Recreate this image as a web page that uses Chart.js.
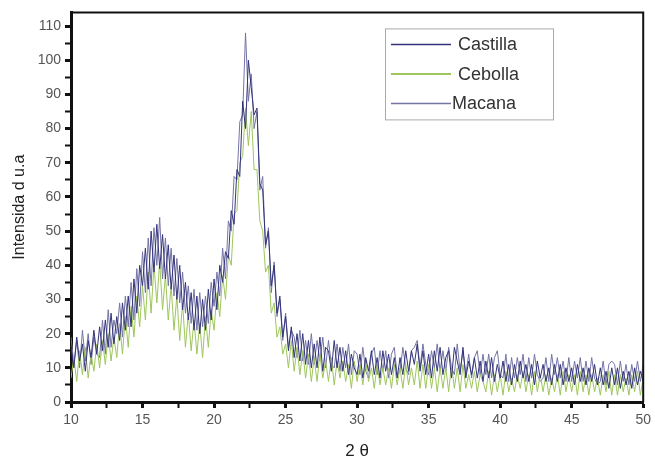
<!DOCTYPE html>
<html lang="es">
<head>
    <meta charset="UTF-8">
    <title>DRX</title>
    <script src="https://cdn.jsdelivr.net/npm/chart.js"></script>
    <style>
        html, body { margin: 0; padding: 0; background: #fff; }
        #wrap { width: 655px; height: 462px; position: relative; }
    </style>
</head>
<body>
    <div id="wrap"><canvas id="xrd"></canvas></div>

    <script>
        // scan 10..50 deg, step 0.2
        const startAngle = 10;
        const stepAngle = 0.2;
        const seriesNames = ["Castilla", "Cebolla", "Macana"];
        const seriesColors = ["#34347a", "#9ec65c", "#7474a6"];

        const castilla = [
            16,10,19,12,17,9,18,13,21,14,
            22,15,24,16,26,17,25,18,29,21,
            31,22,36,26,40, 34,45,33,50,38, 52,39,49,36,46, 33,43,30,40,27,
            35,24,32,21,31, 20,30,21,33,24, 36,27,40,35,44, 42,56,52,68,66,
            88,80,100,92,84, 86,64,62,46,50, 34,40,26,31,19, 25,15,22,13,20,
            12,20,11,18,10, 17,10,19,9,16, 15,9,18,10,16, 9,15,8,14,10,
            8,14,7,13,9, 15,8,13,7,15, 9,14,8,13,7, 13,8,15,9,15,
            11,17,9,15,8, 14,7,15,9,16, 8,13,15,7,16, 12,8,16,7,12,
            8,13,7,12,6, 12,7,13,6,11, 7,12,6,11,5, 11,6,12,7,11,
            6,11,5,12,7, 11,6,10,5,11, 6,11,5,10,6, 10,5,11,6,10,
            5,10,6,11,5, 10,5,9,4,10, 5,10,4,9,5, 9,4,10,5,9,
            6
        ];
        const cebolla = [
            7,13,6,15,8,16,7,14,9,17,
            10,18,11,20,12,19,13,23,14,25,
            16,28,19,31,22, 34,24,38,26,40, 29,41,27,37,24, 34,21,31,18,29,
            16,26,15,24,14, 23,13,25,16,27, 21,32,25,37,30, 43,40,55,56,70,
            72,86,75,85,68, 68,53,50,38,40, 26,29,19,22,14, 17,10,18,9,16,
            8,15,7,14,6, 13,6,14,7,12, 6,13,5,12,7, 12,6,11,4,12,
            6,11,5,12,6, 10,4,11,5,10, 5,10,4,11,5, 10,4,11,5,10,
            5,12,4,11,4, 11,4,10,3,10, 4,10,3,11,4, 10,3,11,4,8,
            4,9,3,8,6, 3,9,2,8,3, 8,2,9,3,7, 3,8,4,9,3,
            8,2,9,3,8, 3,8,2,7,3, 8,2,9,3,8, 3,8,2,9,3,
            8,2,8,3,7, 2,8,3,9,2, 8,2,8,3,7, 2,8,3,9,2,
            7
        ];
        const macana = [
            19,11,18,10,21,12,20,11,19,14,
            13,24,14,27,16,24,20,29,19,31,
            22,35,24,39,28, 44,32,48,34,51, 40,54,36,48,34, 45,31,42,29,38,
            26,34,23,33,21, 32,22,31,23,35, 28,38,31,45,36, 53,50,66,65,82,
            84,108,88,96,80, 85,62,66,45,51, 32,41,25,30,18, 26,16,21,19,13,
            21,12,18,11,20, 11,18,12,19,10, 18,11,10,17,9, 16,10,17,8,15,
            14,8,16,9,7, 14,16,8,15,9, 15,7,14,16,8, 9,16,10,8,15,
            16,18,10,17,11, 8,15,10,17,9, 15,9,16,10,8, 17,9,15,8,14,
            7,13,15,8,14, 8,14,7,13,15, 8,7,14,6,13, 7,13,8,14,6,
            13,7,14,8,6, 7,13,6,14,8, 13,7,12,6,13, 6,12,7,13,6,
            12,6,13,7,5, 6,12,5,11,12, 11,5,12,6,11, 5,11,6,12,6,
            11
        ];

        const toPoints = arr => arr.map((v, i) => ({ x: +(startAngle + i * stepAngle).toFixed(1), y: v }));
        const seriesData = [castilla, cebolla, macana];

        const frame = {
            id: "frame",
            afterDraw(chart) {
                const { ctx, chartArea: a } = chart;
                ctx.save();
                ctx.strokeStyle = "#111";
                ctx.lineWidth = 2;
                ctx.beginPath();
                ctx.moveTo(a.left, a.top);
                ctx.lineTo(a.right, a.top);
                ctx.lineTo(a.right, a.bottom);
                ctx.stroke();

                // legend box
                const bx = a.left + 314, by = a.top + 16, bw = 168, bh = 91;
                ctx.fillStyle = "#fff";
                ctx.fillRect(bx, by, bw, bh);
                ctx.strokeStyle = "#aaa";
                ctx.lineWidth = 1;
                ctx.strokeRect(bx + 0.5, by + 0.5, bw, bh);
                ctx.font = "18px 'Liberation Sans', Arial, sans-serif";
                ctx.textBaseline = "middle";
                chart.data.datasets.forEach((ds, i) => {
                    const yy = by + 16 + i * 29.5;
                    ctx.strokeStyle = ds.borderColor;
                    ctx.lineWidth = i === 1 ? 2 : 1.5;
                    ctx.beginPath();
                    ctx.moveTo(bx + 6, yy);
                    ctx.lineTo(bx + 66, yy);
                    ctx.stroke();
                    ctx.fillStyle = "#333";
                    ctx.fillText(ds.label, bx + (i === 2 ? 67 : 73), yy + 1);
                });
                ctx.restore();
            }
        };

        new Chart(document.getElementById("xrd"), {
            type: "line",
            data: {
                datasets: seriesNames.map((name, i) => ({
                    label: name,
                    data: toPoints(seriesData[i]),
                    borderColor: seriesColors[i],
                    borderWidth: 1,
                    pointRadius: 0,
                    tension: 0
                }))
            },
            options: {
                responsive: true,
                maintainAspectRatio: false,
                animation: false,
                layout: { padding: { top: 10, right: 7, left: 0, bottom: 0 } },
                plugins: { legend: { display: false }, tooltip: { enabled: false } },
                scales: {
                    x: {
                        type: "linear",
                        min: 10,
                        max: 50,
                        afterFit: s => { s.height = 60; },
                        border: { color: "#111", width: 3 },
                        grid: {
                            drawOnChartArea: false,
                            tickLength: 6,
                            tickColor: "#111",
                            tickWidth: c => (c.tick && c.tick.value % 5 === 0 ? 3 : 2)
                        },
                        ticks: {
                            stepSize: 2.5,
                            autoSkip: false,
                            maxRotation: 0,
                            padding: 4,
                            color: "#555",
                            font: { family: "'Liberation Sans', Arial", size: 14 },
                            callback: v => (v % 5 === 0 ? v : "")
                        },
                        title: {
                            display: true,
                            text: "2 θ",
                            color: "#222",
                            font: { family: "'Liberation Sans', Arial", size: 17 },
                            padding: { top: 0, bottom: 0 }
                        }
                    },
                    y: {
                        min: 0,
                        max: 114,
                        afterFit: s => { s.width = 71; },
                        border: { color: "#111", width: 3 },
                        grid: {
                            drawOnChartArea: false,
                            tickLength: 6,
                            tickColor: "#111",
                            tickWidth: c => (c.tick && c.tick.value % 10 === 0 ? 3 : 2)
                        },
                        ticks: {
                            stepSize: 5,
                            includeBounds: false,
                            autoSkip: false,
                            padding: 4,
                            color: "#555",
                            font: { family: "'Liberation Sans', Arial", size: 14 },
                            callback: v => (v % 10 === 0 ? v : "")
                        },
                        title: {
                            display: true,
                            text: "Intensida d u.a",
                            color: "#222",
                            font: { family: "'Liberation Sans', Arial", size: 16 },
                            padding: { top: 10, bottom: 0 }
                        }
                    }
                }
            },
            plugins: [frame]
        });
    </script>
</body>
</html>
